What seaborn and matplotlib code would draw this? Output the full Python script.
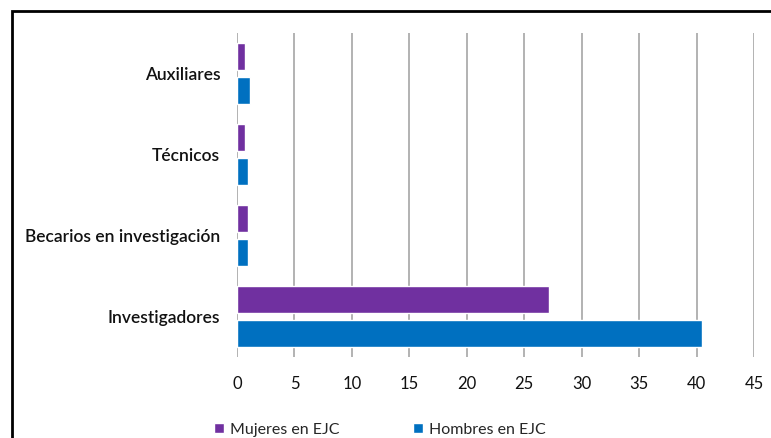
"""Horizontal grouped bar chart: personal en EJC por sexo."""

import matplotlib.pyplot as plt
import pandas as pd
import seaborn as sns
from matplotlib.patches import Rectangle

categorias = ["Auxiliares", "Técnicos", "Becarios en investigación", "Investigadores"]
mujeres = [0.7, 0.7, 1.0, 27.2]
hombres = [1.1, 1.0, 1.0, 40.5]
series = ["Mujeres en EJC", "Hombres en EJC"]
colores = ["#7030A0", "#0070C0"]
ticks_x = [0, 5, 10, 15, 20, 25, 30, 35, 40, 45]

df = pd.DataFrame({
    "categoria": categorias * 2,
    "valor": mujeres + hombres,
    "serie": [series[0]] * 4 + [series[1]] * 4,
})

sns.set_style("white")
plt.rcParams["font.family"] = ["Lato", "DejaVu Sans"]

fig = plt.figure(figsize=(7.71, 4.38), dpi=100)
ax = fig.add_axes([237 / 771, 1 - 357 / 438, (754 - 237) / 771, (357 - 33) / 438])

sns.barplot(
    data=df, x="valor", y="categoria", hue="serie",
    order=categorias, hue_order=series, palette=colores,
    width=0.86, gap=0.22, saturation=1, ax=ax,
)

ax.set_xlim(0, 45)
ax.set_xticks(ticks_x)
ax.xaxis.grid(True, color="#a6a6a6", linewidth=1.2)
ax.set_axisbelow(True)
for s in ax.spines.values():
    s.set_visible(False)
ax.tick_params(axis="x", length=0, pad=14, labelsize=12, labelcolor="#111111")
ax.tick_params(axis="y", length=0, pad=12, labelsize=12.5, labelcolor="#111111")
for lbl in ax.get_yticklabels():
    lbl.set_fontweight("semibold")
ax.set_xlabel("")
ax.set_ylabel("")

sns.move_legend(
    ax, "center left", bbox_to_anchor=(200 / 771, 8 / 438),
    bbox_transform=fig.transFigure, ncol=2, frameon=False, title=None,
    fontsize=11.5, handlelength=0.6, handleheight=0.6, handletextpad=0.4,
    columnspacing=4.6,
)

# outer chart border (right/bottom cropped out of view)
fig.patches.append(Rectangle((12 / 771, -0.1), 1.2, 1 - 11 / 438 + 0.1,
                             transform=fig.transFigure, fill=False,
                             edgecolor="black", linewidth=2))

fig.savefig("out.png", dpi=100)
